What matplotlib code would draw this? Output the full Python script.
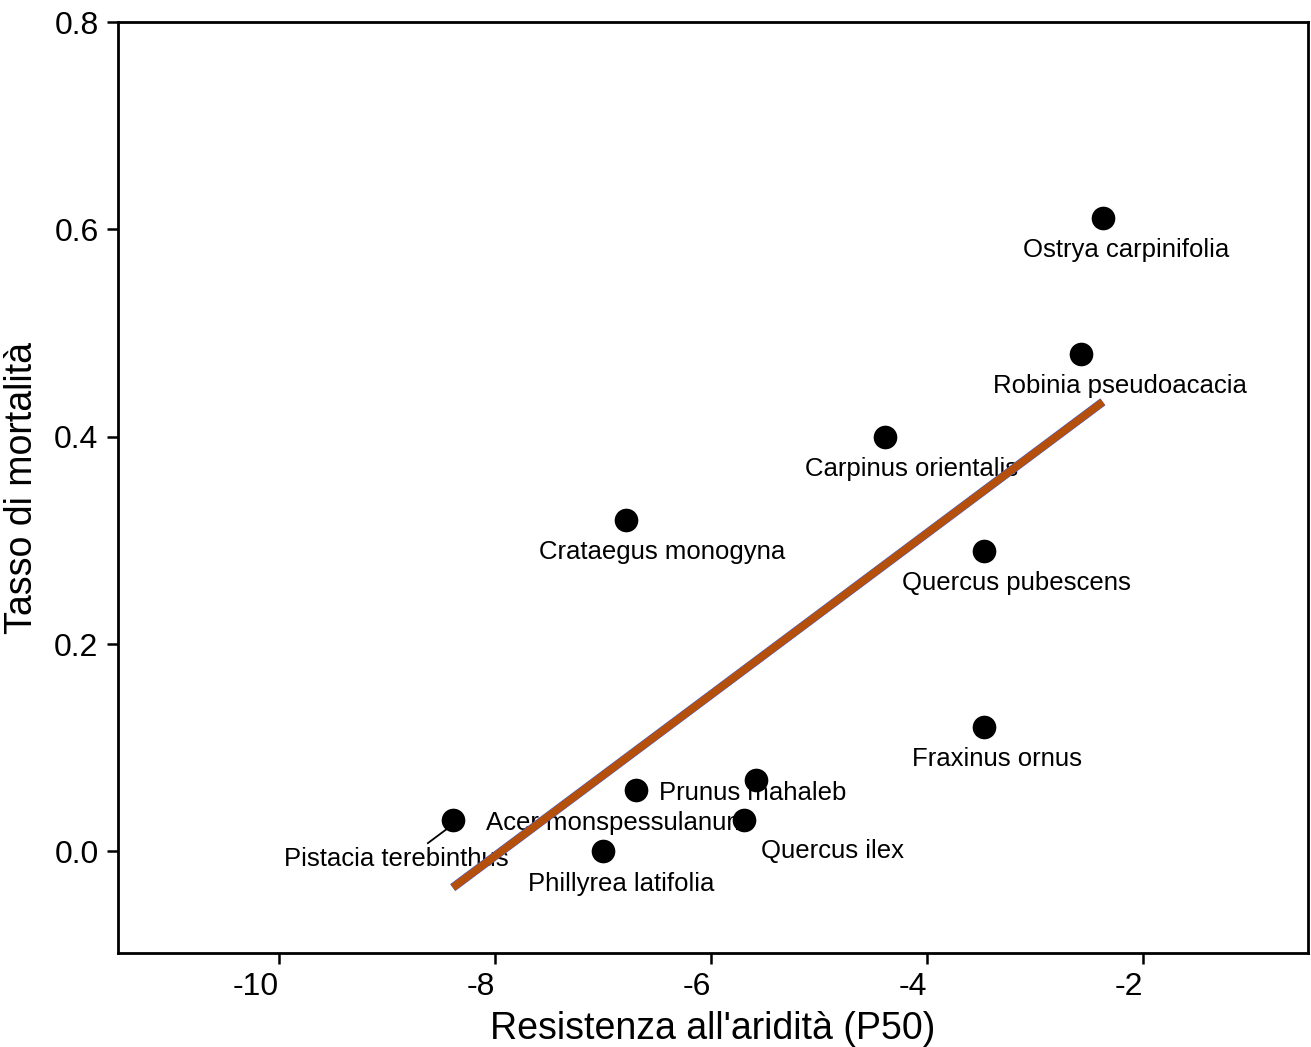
#mortality vs drought resistance (P50)
import matplotlib
matplotlib.use("Agg")
import matplotlib.pyplot as plt
import numpy as np

#species data
specie = ["Ostrya carpinifolia", "Robinia pseudoacacia", "Carpinus orientalis",
          "Crataegus monogyna", "Quercus pubescens", "Fraxinus ornus",
          "Prunus mahaleb", "Acer monspessulanum", "Quercus ilex",
          "Phillyrea latifolia", "Pistacia terebinthus"]
p50 = [-2.37, -2.57, -4.39, -6.79, -3.47, -3.47, -5.58, -6.69, -5.69, -7.00, -8.39]
mortalita = [0.611, 0.480, 0.400, 0.320, 0.290, 0.120, 0.069, 0.059, 0.030, 0.000, 0.030]

#label offsets (data units, from point to label centre)
dx = [0.22, 0.36, 0.25, 0.34, 0.30, 0.12, -0.03, -0.18, 0.82, 0.17, -0.52]
dy = [-0.031, -0.031, -0.031, -0.031, -0.031, -0.031, -0.013, -0.032, -0.030, -0.031, -0.037]

plt.rcParams["font.family"] = ["Liberation Sans", "DejaVu Sans"]
plt.rcParams["axes.unicode_minus"] = False

fig = plt.figure(figsize=(13.11, 10.47), dpi=100)
ax = fig.add_axes([0.090, 0.0898, 0.9077, 0.889])

#labels first, line and points drawn over them
for i in range(len(specie)):
    tx = p50[i] + dx[i]
    ty = mortalita[i] + dy[i]
    ax.text(tx, ty, specie[i], fontsize=18.5, ha="center", va="center", zorder=1.5)

#leader line for Pistacia
ax.plot([p50[10] - 0.05, p50[10] - 0.23], [mortalita[10] - 0.008, mortalita[10] - 0.022],
        color="black", lw=1.3, zorder=1.5)

#fitted line
coef = np.polyfit(p50, mortalita, 1)
xs = np.array([min(p50), max(p50)])
ax.plot(xs, np.polyval(coef, xs), color="#3366FF", lw=6.2, solid_capstyle="butt", zorder=2)
ax.plot(xs, np.polyval(coef, xs), color="#B4500C", lw=5.6, solid_capstyle="butt", zorder=3)

ax.scatter(p50, mortalita, s=290, color="black", zorder=4, linewidths=0)

ax.set_xlim(-11.49, -0.47)
ax.set_ylim(-0.098, 0.8)
ax.set_xticks([-10, -8, -6, -4, -2])
ax.set_yticks([0.0, 0.2, 0.4, 0.6, 0.8])
ax.set_yticklabels(["0.0", "0.2", "0.4", "0.6", "0.8"])

for s in ax.spines.values():
    s.set_linewidth(2)
ax.tick_params(direction="out", length=8, width=1.8, labelsize=23, pad=6)
#x tick labels sit right-aligned on the ticks in the original
for lab in ax.get_xticklabels():
    lab.set_horizontalalignment("right")

ax.set_xlabel("Resistenza all'aridità (P50)", fontsize=27, labelpad=6)
ax.set_ylabel("Tasso di mortalità", fontsize=27, labelpad=10)

fig.savefig("out.png", dpi=100)
